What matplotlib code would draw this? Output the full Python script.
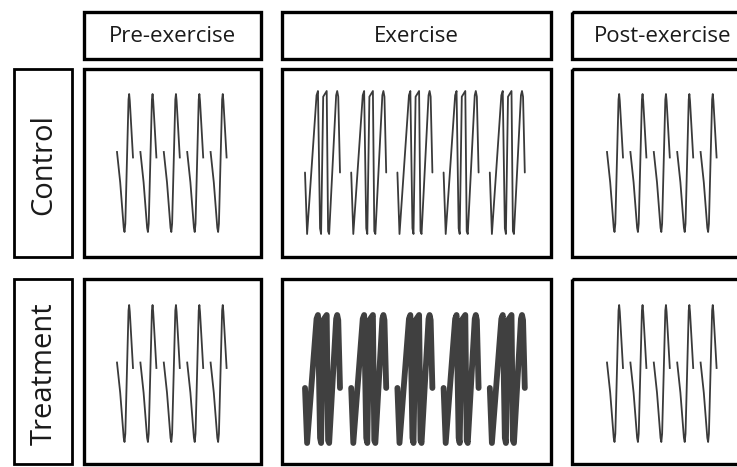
import numpy as np
import matplotlib.pyplot as plt
from matplotlib.patches import Rectangle

plt.rcParams['font.family'] = ['Open Sans', 'DejaVu Sans']

# column / row labels
phases = ['Pre-exercise', 'Exercise', 'Post-exercise']
groups = ['Control', 'Treatment']

# one resting beat: fraction along the stroke, level (0 = trough, 1 = peak)
beat_t = [0.0, 0.2, 0.42, 0.47, 0.52, 0.72, 0.76, 0.8, 1.0]
beat_v = [0.58, 0.36, 0.03, 0.0, 0.06, 0.96, 1.0, 0.95, 0.54]

# one exercise burst: three fast beats
burst_t = [0.0, 0.06, 0.33, 0.37, 0.43, 0.46, 0.52, 0.62, 0.66, 0.69, 0.89, 0.92, 0.95, 1.0]
burst_v = [0.43, 0.0, 0.97, 1.0, 0.04, 0.0, 0.96, 1.0, 0.02, 0.0, 0.97, 1.0, 0.96, 0.43]

n_beats = 5
# line width (pt) for exercise bursts per group
burst_lw = [1.3, 4.2]
burst_col = ['#3a3a3a', '#404040']

fig = plt.figure(figsize=(7.37, 4.67), dpi=100)
ax = fig.add_axes([0, 0, 1, 1])
ax.set_xlim(0, 737)
ax.set_ylim(467, 0)
ax.axis('off')

col_x = [(84, 261), (282, 551), (572, 748)]
row_y = [(69, 257), (279, 464)]
head_y = (12, 59)
lab_x = (14, 72)

def box(x0, x1, y0, y1, lw=2.4):
    ax.add_patch(Rectangle((x0, y0), x1 - x0, y1 - y0, fill=False,
                           ec='black', lw=lw, zorder=3))

for (x0, x1), name in zip(col_x, phases):
    box(x0, x1, *head_y)
    cx = (x0 + x1) / 2 if name != 'Post-exercise' else 663
    ax.text(cx, sum(head_y) / 2 + 1, name, ha='center', va='center', fontsize=16,
            fontweight='medium', color='#1a1a1a')

for (y0, y1), name in zip(row_y, groups):
    box(lab_x[0], lab_x[1], y0, y1, lw=2)
    ax.text(sum(lab_x) / 2 + 1, (y0 + y1) / 2 + 2, name, rotation=90, ha='center',
            va='center', fontsize=21, color='#1a1a1a')

# beat geometry inside each panel
rest_start = [33, 35]      # offset from panel left edge
rest_step = 23.4
rest_w = 16
burst_start = 23
burst_step = 46.2
burst_w = 35
levels = {0: [(232, 94), (234, 91)], 1: [(442, 305), (443, 315)]}

bt = np.array(beat_t)
bv = np.array(beat_v)
ut = np.array(burst_t)
uv = np.array(burst_v)

for r, (y0, y1) in enumerate(row_y):
    for c, (x0, x1) in enumerate(col_x):
        box(x0, x1, y0, y1)
        if c == 1:
            lo, hi = levels[r][1]
            for i in range(n_beats):
                xs = x0 + burst_start + i * burst_step + ut * burst_w
                ax.plot(xs, lo + uv * (hi - lo), color=burst_col[r],
                        lw=burst_lw[r], solid_joinstyle='round', solid_capstyle='round')
        else:
            lo, hi = levels[r][0]
            for i in range(n_beats):
                xs = x0 + rest_start[c // 2] + i * rest_step + bt * rest_w
                ax.plot(xs, lo + bv * (hi - lo), color='#3a3a3a', lw=1.3,
                        solid_joinstyle='round')

fig.savefig('out.png', dpi=100)
